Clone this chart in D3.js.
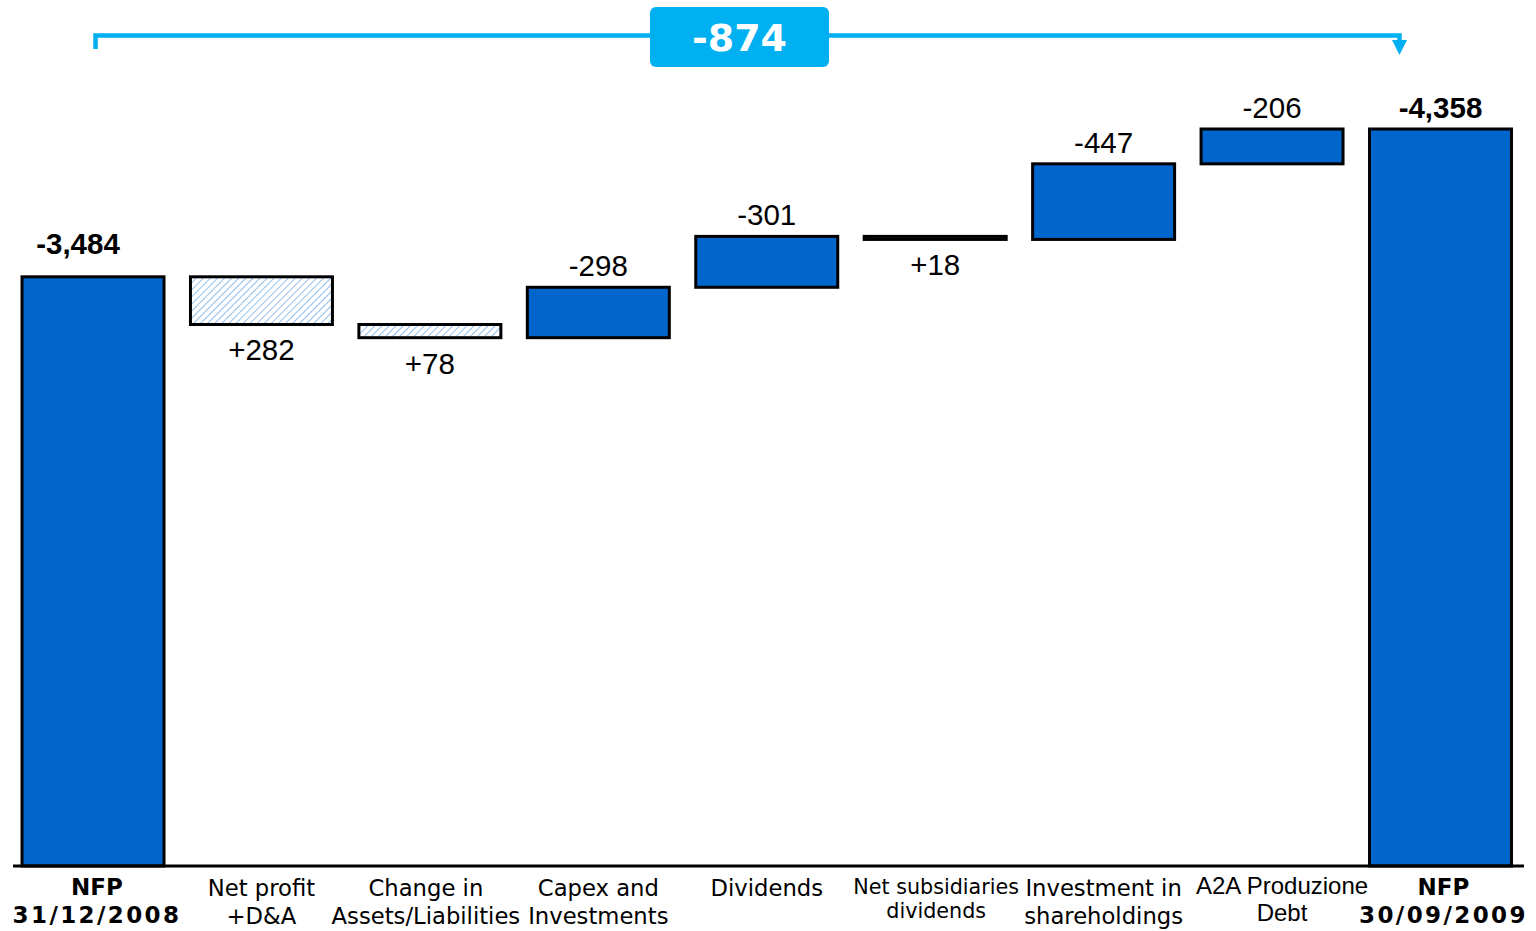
<!DOCTYPE html>
<html>
<head>
<meta charset="utf-8">
<script src="https://cdn.jsdelivr.net/npm/d3@7"></script>
<style>
  html, body { margin: 0; padding: 0; background: #ffffff; }
  svg { display: block; }
</style>
</head>
<body>
<svg id="chart" width="1536" height="931"></svg>
<script>
// ---------------- DATA ----------------
const categories = [
  ["NFP", "31/12/2008"],
  ["Net profit", "+D&A"],
  ["Change in", "Assets/Liabilities"],
  ["Capex and", "Investments"],
  ["Dividends"],
  ["Net subsidiaries", "dividends"],
  ["Investment in", "shareholdings"],
  ["A2A Produzione", "Debt"],
  ["NFP", "30/09/2009"]
];
const kinds = ["total", "delta", "delta", "delta", "delta", "delta", "delta", "delta", "total"];
// values as shown (NFP negative = debt; deltas as printed)
const values = [-3484, 282, 78, -298, -301, 18, -447, -206, -4358];
const valueLabels = ["-3,484", "+282", "+78", "-298", "-301", "+18", "-447", "-206", "-4,358"];
const totalChange = -874;
const totalChangeLabel = "-874";

// ---------------- LAYOUT ----------------
const W = 1536, H = 931;
const baseY = 866;
const svg = d3.select("#chart");

const x = d3.scaleBand()
  .domain(d3.range(categories.length))
  .range([8.8, 1524.7])
  .paddingInner(0.157)
  .paddingOuter(0.0785);

const maxDebt = d3.max(values.map((v, i) => kinds[i] === "total" ? -v : 0));
const y = d3.scaleLinear().domain([0, maxDebt]).range([baseY, 129]);

// compute waterfall segments (debt magnitude)
let running = 0;
const segs = values.map((v, i) => {
  if (kinds[i] === "total") {
    running = -v;
    return { i, lo: 0, hi: -v, kind: "total", sign: -1 };
  }
  const start = running;
  const end = running - v;
  running = end;
  return { i, lo: Math.min(start, end), hi: Math.max(start, end), kind: "delta", sign: v > 0 ? 1 : -1 };
});

// hatch pattern
const defs = svg.append("defs");
const pat = defs.append("pattern")
  .attr("id", "hatch")
  .attr("patternUnits", "userSpaceOnUse")
  .attr("width", 5).attr("height", 5)
  .attr("patternTransform", "rotate(45)");
pat.append("rect").attr("width", 5).attr("height", 5).attr("fill", "#ffffff");
pat.append("line").attr("x1", 0).attr("y1", 0).attr("x2", 0).attr("y2", 5)
  .attr("stroke", "#5b9be6").attr("stroke-width", 1.3);

const blue = "#0066cc";

// bars
svg.append("g").selectAll("rect")
  .data(segs)
  .join("rect")
  .attr("x", d => x(d.i))
  .attr("width", x.bandwidth())
  .attr("y", d => y(d.hi))
  .attr("height", d => Math.max(0.5, y(d.lo) - y(d.hi)))
  .attr("fill", d => d.sign > 0 && d.kind === "delta" ? "url(#hatch)" : blue)
  .attr("stroke", "#000")
  .attr("stroke-width", 3);

// baseline
svg.append("line")
  .attr("x1", 13).attr("x2", 1524)
  .attr("y1", baseY).attr("y2", baseY)
  .attr("stroke", "#000").attr("stroke-width", 3);

// value labels
svg.append("g").selectAll("text")
  .data(segs)
  .join("text")
  .attr("x", d => x(d.i) + x.bandwidth() / 2 + (d.i === 0 ? -15 : 0))
  .attr("y", d => {
    if (d.kind === "total") return y(d.hi) - (d.i === 0 ? 23 : 11);
    return d.sign < 0 ? y(d.hi) - 11 : y(d.lo) + 36;
  })
  .attr("text-anchor", "middle")
  .attr("font-family", "'Liberation Sans', Arial, sans-serif")
  .attr("font-size", 29.5)
  .attr("font-weight", d => d.kind === "total" ? "bold" : "normal")
  .attr("fill", "#000")
  .text(d => valueLabels[d.i]);

// category labels
const catG = svg.append("g");
categories.forEach((lines, i) => {
  const isTotal = kinds[i] === "total";
  let dx = 0;
  let family = "'DejaVu Sans', Verdana, sans-serif", size = 22.7, lh = 28, y0 = 896;
  if (i === 2) dx = -4;
  if (i === 5) { size = 20.7; lh = 24; y0 = 894; dx = 1; }
  if (i === 7) { family = "'Liberation Sans', Arial, sans-serif"; size = 24; lh = 27; y0 = 894; dx = 10; }
  if (isTotal) { size = 23; lh = 28; y0 = 895; dx = (i === 0 ? 4 : 3); }
  const cx = x(i) + x.bandwidth() / 2 + dx;
  lines.forEach((ln, k) => {
    const t = catG.append("text")
      .attr("x", cx)
      .attr("y", y0 + k * lh)
      .attr("text-anchor", "middle")
      .attr("font-family", family)
      .attr("font-size", size)
      .attr("font-weight", isTotal ? "bold" : "normal")
      .attr("fill", "#000")
      .text(ln);
    if (isTotal && k === 1) t.attr("letter-spacing", 2.4);
  });
});

// top bracket annotation
const cyan = "#00b0f0";
const xl = x(0) + x.bandwidth() / 2 + 2.5;
const xr = x(8) + x.bandwidth() / 2 - 41;
const ly = 35.5;
const ann = svg.append("g");
ann.append("path")
  .attr("d", `M${xl},49 L${xl},${ly} L${xr},${ly} L${xr},41`)
  .attr("fill", "none").attr("stroke", cyan).attr("stroke-width", 4.5);
ann.append("path")
  .attr("d", `M${xr - 7.5},40 L${xr + 7.5},40 L${xr},55 Z`)
  .attr("fill", cyan);
const bx = 650, bw = 179, by = 7, bh = 60;
ann.append("rect")
  .attr("x", bx).attr("y", by).attr("width", bw).attr("height", bh)
  .attr("rx", 6).attr("ry", 6).attr("fill", cyan);
ann.append("text")
  .attr("x", bx + bw / 2).attr("y", by + bh / 2 + 14)
  .attr("text-anchor", "middle")
  .attr("font-family", "'DejaVu Sans', Verdana, sans-serif")
  .attr("font-weight", "bold")
  .attr("font-size", 38)
  .attr("fill", "#ffffff")
  .text(totalChangeLabel);
</script>
</body>
</html>
